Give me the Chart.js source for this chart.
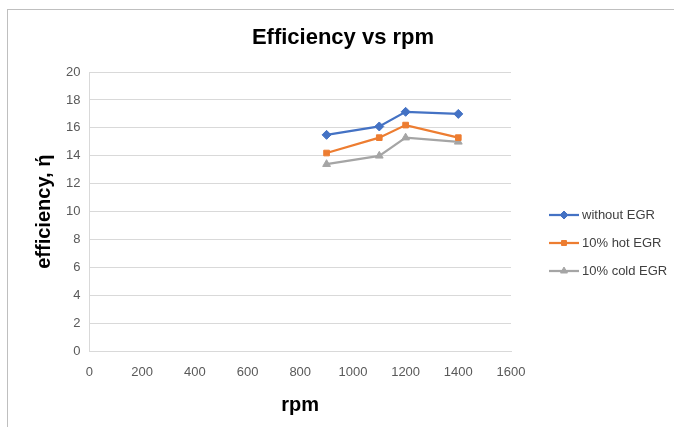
<!DOCTYPE html>
<html>
<head>
<meta charset="utf-8">
<script src="https://cdn.jsdelivr.net/npm/chart.js@4"></script>
<style>
  html, body { margin: 0; padding: 0; background: #fff; overflow: hidden; }
  #frame { position: absolute; left: 7px; top: 9px; width: 700px; height: 440px; border: 1px solid #bfbfbf; }
  #wrap { position: absolute; left: 0; top: 0; width: 674px; height: 427px; }
</style>
</head>
<body>
<div id="frame"></div>
<div id="wrap"><canvas id="effChart" width="674" height="427"></canvas></div>
<script>
// rpm values
const rpm = [900, 1100, 1200, 1400];

// efficiency per series
const withoutEGR = [15.5, 16.1, 17.15, 17.0];
const hotEGR = [14.2, 15.3, 16.2, 15.3];
const coldEGR = [13.4, 14.0, 15.3, 15.0];

const seriesNames = ['without EGR', '10% hot EGR', '10% cold EGR'];
const seriesColors = ['#4472C4', '#ED7D31', '#A5A5A5'];
const seriesMarkers = ['rectRot', 'rect', 'triangle'];

const chartTitle = 'Efficiency vs rpm';

const FONT = "'Liberation Sans', Arial, sans-serif";
const TICK_COLOR = '#595959';

function toPoints(values) {
  return rpm.map((r, i) => ({ x: r, y: values[i] }));
}

/**
 * Title centred on the whole frame, not on the plot
 */
const frameTitle = {
  id: 'frameTitle',
  afterDraw(chart) {
    const ctx = chart.ctx;
    ctx.save();
    ctx.fillStyle = '#000';
    ctx.font = 'bold 22px ' + FONT;
    ctx.textAlign = 'center';
    ctx.textBaseline = 'middle';
    ctx.fillText(chartTitle, 343, 38);
    ctx.restore();
  }
};

/**
 * Legend drawn by hand so each entry shows a line with its marker
 */
const lineLegend = {
  id: 'lineLegend',
  afterDraw(chart) {
    const ctx = chart.ctx;
    const x0 = 549, len = 30;
    chart.data.datasets.forEach((ds, i) => {
      const y = 215 + i * 28;
      ctx.save();
      ctx.strokeStyle = ds.borderColor;
      ctx.fillStyle = ds.backgroundColor;
      ctx.lineWidth = 2.25;
      ctx.beginPath();
      ctx.moveTo(x0, y);
      ctx.lineTo(x0 + len, y);
      ctx.stroke();
      ctx.lineWidth = 1;
      Chart.helpers.drawPoint(ctx, {
        pointStyle: ds.pointStyle,
        radius: ds.pointStyle === 'rect' ? 3.5 : 4,
        borderWidth: 1
      }, x0 + len / 2, y);
      ctx.fillStyle = '#404040';
      ctx.font = '13px ' + FONT;
      ctx.textBaseline = 'middle';
      ctx.fillText(ds.label, x0 + len + 3, y);
      ctx.restore();
    });
  }
};

function makeDataset(label, values, i) {
  return {
    label: label,
    data: toPoints(values),
    showLine: true,
    borderColor: seriesColors[i],
    backgroundColor: seriesColors[i],
    pointBackgroundColor: seriesColors[i],
    pointBorderColor: seriesColors[i],
    borderWidth: 2.25,
    pointStyle: seriesMarkers[i],
    pointRadius: seriesMarkers[i] === 'rect' ? 4 : 4.5,
    pointBorderWidth: 1
  };
}

new Chart(document.getElementById('effChart'), {
  type: 'scatter',
  data: {
    datasets: [
      makeDataset(seriesNames[0], withoutEGR, 0),
      makeDataset(seriesNames[1], hotEGR, 1),
      makeDataset(seriesNames[2], coldEGR, 2)
    ]
  },
  options: {
    responsive: false,
    animation: false,
    devicePixelRatio: 1,
    layout: { padding: { top: 72, left: 28, right: 163, bottom: 6 } },
    plugins: {
      legend: { display: false },
      tooltip: { enabled: false },
      title: { display: false }
    },
    scales: {
      x: {
        type: 'linear',
        min: 0,
        max: 1600,
        ticks: {
          stepSize: 200,
          color: TICK_COLOR,
          font: { family: FONT, size: 13 },
          padding: 13,
          callback: v => String(v)
        },
        grid: { display: false, drawTicks: false },
        border: { color: '#d9d9d9', width: 1 },
        title: {
          display: true,
          text: 'rpm',
          color: '#000',
          font: { family: FONT, size: 20, weight: 'bold' },
          padding: { top: 0 }
        }
      },
      y: {
        min: 0,
        max: 20,
        ticks: { stepSize: 2, color: TICK_COLOR, font: { family: FONT, size: 13 }, padding: 9 },
        grid: { color: '#d9d9d9', drawTicks: false },
        border: { color: '#d9d9d9', width: 1 },
        title: {
          display: true,
          text: 'efficiency, ή',
          color: '#000',
          font: { family: FONT, size: 20, weight: 'bold' },
          padding: { bottom: 1 }
        }
      }
    }
  },
  plugins: [frameTitle, lineLegend]
});
</script>
</body>
</html>
